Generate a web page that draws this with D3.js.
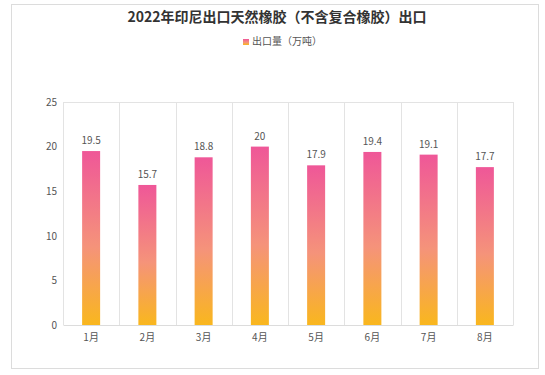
<!DOCTYPE html>
<html>
<head>
<meta charset="utf-8">
<script src="https://cdn.jsdelivr.net/npm/d3@7"></script>
<style>
  body { margin: 0; background: #fff; }
  text { font-family: "Microsoft YaHei", "Noto Sans CJK SC", sans-serif; }
</style>
</head>
<body>
<svg width="545" height="375"></svg>
<script>
var months = ["1月", "2月", "3月", "4月", "5月", "6月", "7月", "8月"];
var exportVol = [19.5, 15.7, 18.8, 20, 17.9, 19.4, 19.1, 17.7];
var yTicks = [0, 5, 10, 15, 20, 25];
var titleText = "2022年印尼出口天然橡胶（不含复合橡胶）出口";
var legendText = "出口量（万吨）";

var svg = d3.select("svg"),
    margin = {top: 102, right: 32, bottom: 50, left: 63},
    width = 545 - margin.left - margin.right,
    height = 375 - margin.top - margin.bottom;

// outer frame
svg.append("rect")
    .attr("x", 11.5).attr("y", 4.5)
    .attr("width", 527).attr("height", 364)
    .attr("fill", "none").attr("stroke", "#dcdcdc");

var defs = svg.append("defs");
var grad = defs.append("linearGradient")
    .attr("id", "barGrad")
    .attr("x1", 0).attr("y1", 0).attr("x2", 0).attr("y2", 1);
grad.append("stop").attr("offset", "0%").attr("stop-color", "#ef5798");
grad.append("stop").attr("offset", "55%").attr("stop-color", "#f5937a");
grad.append("stop").attr("offset", "100%").attr("stop-color", "#f9b71e");

svg.append("text")
    .attr("x", 277).attr("y", 22)
    .attr("text-anchor", "middle")
    .attr("font-size", 14).attr("font-weight", "bold")
    .attr("fill", "#333")
    .text(titleText);

var legend = svg.append("g").attr("transform", "translate(243,39)");
legend.append("rect").attr("width", 6).attr("height", 6).attr("fill", "url(#barGrad)");
legend.append("text")
    .attr("x", 9).attr("y", 6)
    .attr("font-size", 10).attr("fill", "#555")
    .text(legendText);

var g = svg.append("g").attr("transform", `translate(${margin.left},${margin.top})`);

var x = d3.scaleBand().domain(months).range([0, width]);
var y = d3.scaleLinear().domain([0, 25]).range([height, 0]);

// vertical separators at category boundaries
var bounds = months.map(m => x(m)).concat([width]);
g.selectAll(".sep")
    .data(bounds)
    .enter().append("line")
    .attr("x1", d => Math.round(d) + 0.5).attr("x2", d => Math.round(d) + 0.5)
    .attr("y1", 0).attr("y2", height)
    .attr("stroke", "#e3e3e3");

g.append("line")
    .attr("x1", 0).attr("x2", width)
    .attr("y1", 0.5).attr("y2", 0.5)
    .attr("stroke", "#e3e3e3");

var barW = 18;
g.selectAll(".bar")
    .data(exportVol)
    .enter().append("rect")
    .attr("x", (d, i) => x(months[i]) + x.bandwidth() / 2 - barW / 2)
    .attr("y", d => y(d))
    .attr("width", barW)
    .attr("height", d => height - y(d))
    .attr("fill", "url(#barGrad)");

g.selectAll(".val")
    .data(exportVol)
    .enter().append("text")
    .attr("x", (d, i) => x(months[i]) + x.bandwidth() / 2)
    .attr("y", d => y(d) - 7)
    .attr("text-anchor", "middle")
    .attr("font-size", 10).attr("fill", "#555")
    .text(d => d);

var xAxis = g.append("g")
    .attr("transform", `translate(0,${height})`)
    .call(d3.axisBottom(x).tickSize(0).tickPadding(9));
xAxis.select(".domain").attr("stroke", "#dcdcdc");
xAxis.selectAll("text").attr("font-size", 10).attr("fill", "#555");

var yAxis = g.append("g")
    .call(d3.axisLeft(y).tickValues(yTicks).tickSize(0).tickPadding(6));
yAxis.select(".domain").remove();
yAxis.selectAll("text").attr("font-size", 10).attr("fill", "#555");
</script>
</body>
</html>
